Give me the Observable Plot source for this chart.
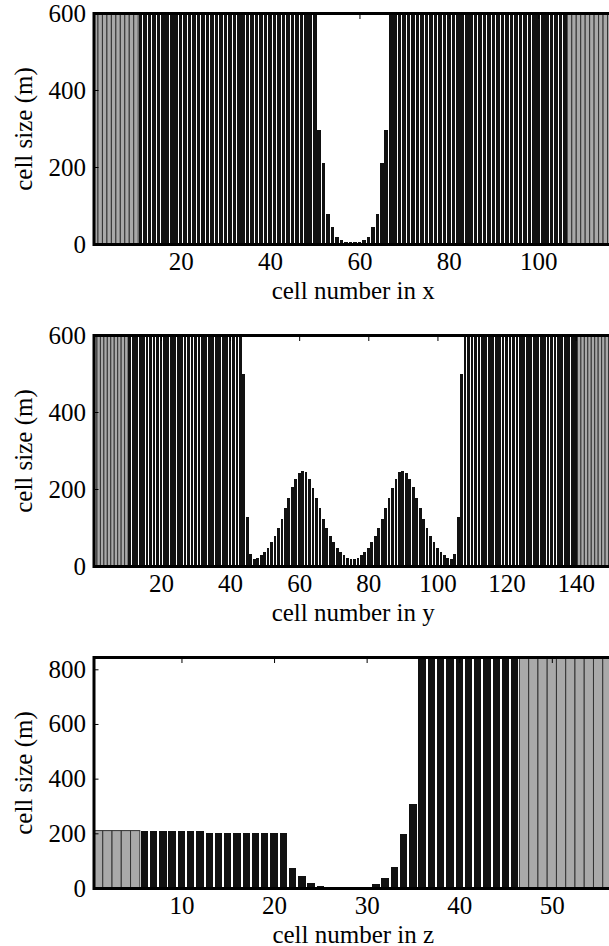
<!DOCTYPE html>
<html><head><meta charset="utf-8">
<script src="https://cdn.jsdelivr.net/npm/d3@7"></script>
<script src="https://cdn.jsdelivr.net/npm/@observablehq/plot@0.6"></script>
<style>
html,body{margin:0;padding:0;background:#fff;overflow:hidden;width:609px;height:946px}
#chart{width:609px;overflow:hidden}
#chart svg{display:block;max-width:none !important;}
#chart svg text{font-family:"Liberation Serif","Times New Roman",serif !important;}
</style></head><body><div id="chart"></div>
<script>
// ---- Panel 1: cell sizes along x (cell number = index + 1) ----
const xSizes = [
  600,600,600,600,600,600,600,600,600,600,
  600,600,600,600,600,600,600,600,600,600,
  600,600,600,600,600,600,600,600,600,600,
  600,600,600,600,600,600,600,600,600,600,
  600,600,600,600,600,600,600,600,600,600,
  295,210,79,43,19,10,5,5,5,5,
  10,19,43,79,210,295,600,600,600,600,
  600,600,600,600,600,600,600,600,600,600,
  600,600,600,600,600,600,600,600,600,600,
  600,600,600,600,600,600,600,600,600,600,
  600,600,600,600,600,600,600,600,600,600,
  600,600,600,600,600,600
];
const xPadRanges = [[1, 10], [107, 116]];
const xTicks = [20, 40, 60, 80, 100];
const xYTicks = [0, 200, 400, 600];

// ---- Panel 2: cell sizes along y ----
const ySizes = [
  600,600,600,600,600,600,600,600,600,600,
  600,600,600,600,600,600,600,600,600,600,
  600,600,600,600,600,600,600,600,600,600,
  600,600,600,600,600,600,600,600,600,600,
  600,600,600,500,127,32,19,20,28,37,
  48,62,79,100,123,151,177,204,227,242,
  248,243,227,203,177,151,123,99,79,62,
  47,37,28,21,17,17,21,28,37,47,
  62,79,99,123,151,177,203,227,243,248,
  242,227,204,177,151,123,100,79,62,48,
  37,28,20,19,32,127,500,600,600,600,
  600,600,600,600,600,600,600,600,600,600,
  600,600,600,600,600,600,600,600,600,600,
  600,600,600,600,600,600,600,600,600,600,
  600,600,600,600,600,600,600,600,600,600
];
const yPadRanges = [[1, 10], [141, 150]];
const yTicks = [20, 40, 60, 80, 100, 120, 140];
const yYTicks = [0, 200, 400, 600];

// ---- Panel 3: cell sizes along z ----
const zSizes = [
  210,210,210,210,210,210,210,210,210,210,
  210,210,200,200,200,200,200,200,200,200,
  200,72,45,17,6,3,2,2,3,5,
  16,38,78,197,306,845,845,845,845,845,
  845,845,845,845,845,845,845,845,845,845,
  845,845,845,845,845,845
];
const zPadRanges = [[1, 5], [47, 56]];
const zTicks = [10, 20, 30, 40, 50];
const zYTicks = [0, 200, 400, 600, 800];

const FONT = "Liberation Serif";
const FS = 25;
const BAR_WIDTH = 0.8;

function panel({sizes, padRanges, yMax, yTicks, xTicks, xLabel, height, marginBottom}) {
  const cells = sizes.map((s, i) => ({
    cell: i + 1, size: s,
    pad: padRanges.some(([a, b]) => i + 1 >= a && i + 1 <= b)
  }));
  const core = cells.filter(d => !d.pad);
  const pads = cells.filter(d => d.pad);
  const n = sizes.length;
  return Plot.plot({
    width: 620, height,
    marginLeft: 93.5, marginRight: 8, marginTop: 13, marginBottom,
    style: {fontFamily: FONT, fontSize: FS + "px", color: "#000", background: "#fff", maxWidth: "none"},
    x: {domain: [0.5, n + 0.5]},
    y: {domain: [0, yMax]},
    marks: [
      Plot.rect(pads, {x1: d => d.cell - 0.5, x2: d => d.cell + 0.5, y1: 0, y2: "size",
        fill: "#a9a9a9", stroke: "#333", strokeWidth: 1, clip: true}),
      Plot.rect(core, {x1: d => d.cell - BAR_WIDTH / 2, x2: d => d.cell + BAR_WIDTH / 2, y1: 0, y2: "size",
        fill: "#111", shapeRendering: "crispEdges", clip: true}),
      Plot.axisY({ticks: yTicks, tickSize: -5, tickFormat: () => "", label: null, stroke: "#000"}),
      Plot.axisX({ticks: xTicks, anchor: "top", tickSize: -5, tickFormat: () => "", label: null, stroke: "#000"}),
      Plot.axisX({ticks: xTicks, anchor: "bottom", tickSize: 0, tickPadding: 8, tickFormat: d => String(d), label: null, fontFamily: FONT, fontSize: FS}),
      Plot.axisY({ticks: yTicks, anchor: "left", tickSize: 0, tickPadding: 8, tickFormat: d => String(d), label: null, fontFamily: FONT, fontSize: FS}),
      Plot.frame({stroke: "#000", strokeWidth: 3}),
      Plot.text([xLabel], {text: d => d, frameAnchor: "bottom", dy: 46, textAnchor: "middle", lineAnchor: "middle", fontFamily: FONT, fontSize: FS, fill: "#000"}),
      Plot.text(["cell size (m)"], {text: d => d, frameAnchor: "left", dx: -70, rotate: -90, textAnchor: "middle", lineAnchor: "middle", fontFamily: FONT, fontSize: FS, fill: "#000"})
    ]
  });
}

const root = document.getElementById("chart");
root.append(panel({sizes: xSizes, padRanges: xPadRanges, yMax: 600, yTicks: xYTicks, xTicks: xTicks, xLabel: "cell number in x", height: 322, marginBottom: 78}));
root.append(panel({sizes: ySizes, padRanges: yPadRanges, yMax: 600, yTicks: yYTicks, xTicks: yTicks, xLabel: "cell number in y", height: 322, marginBottom: 78}));
root.append(panel({sizes: zSizes, padRanges: zPadRanges, yMax: 845, yTicks: zYTicks, xTicks: zTicks, xLabel: "cell number in z", height: 302, marginBottom: 58}));
</script>
</body></html>
